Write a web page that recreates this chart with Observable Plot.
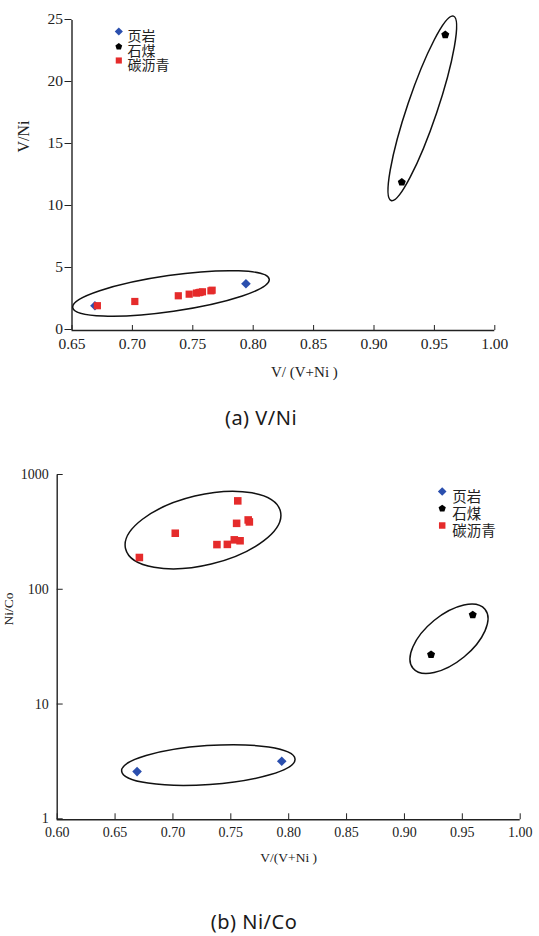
<!DOCTYPE html>
<html><head><meta charset="utf-8">
<script src="https://cdn.jsdelivr.net/npm/d3@7"></script>
<script src="https://cdn.jsdelivr.net/npm/@observablehq/plot@0.6"></script>
<style>
body{margin:0;background:#fff;}
#wrap{position:relative;width:539px;height:936px;overflow:hidden;background:#fff;}
#wrap svg{position:absolute;left:0;}
.cap{position:absolute;font-family:"Noto Sans","Noto Sans CJK SC",sans-serif;font-size:20px;line-height:20px;color:#1a1a1a;transform:translate(-50%,-50%);white-space:nowrap;letter-spacing:0.5px;}
</style></head><body><div id="wrap"></div>
<script>
// ---- data ----
const categories = ["页岩", "石煤", "碳沥青"];
const colors = ["#2b4fae", "#000000", "#e52b2b"];
// 页岩 (shale)
const shaleX = [0.669, 0.794];
const shaleVNi = [2.0, 3.77];
const shaleNiCo = [2.63, 3.24];
// 石煤 (stone coal)
const coalX = [0.923, 0.959];
const coalVNi = [11.96, 23.85];
const coalNiCo = [27.5, 61];
// 碳沥青 (carbonaceous bitumen)
const bitX = [0.671, 0.702, 0.738, 0.747, 0.753, 0.755, 0.756, 0.758, 0.765, 0.766];
const bitVNi = [2.0, 2.34, 2.8, 2.93, 3.02, 3.05, 3.08, 3.12, 3.2, 3.25];
const bitNiCo = [193, 314, 250, 251, 275, 383, 601, 270, 410, 394];
// tick labels
const xTicksA = [0.65, 0.70, 0.75, 0.80, 0.85, 0.90, 0.95, 1.00];
const yTicksA = [0, 5, 10, 15, 20, 25];
const xTicksB = [0.60, 0.65, 0.70, 0.75, 0.80, 0.85, 0.90, 0.95, 1.00];
const yTicksB = [1, 10, 100, 1000];
// grouping ellipses (major-axis ends in data units)
const ellipseEndsA = [[0.651, 1.81, 0.8137, 4.09], [0.9146, 10.44, 0.9662, 25.31]];
const ellipseEndsB = [[0.6595, 227.6, 0.7933, 482], [0.6561, 2.63, 0.8059, 3.35], [0.9078, 20.7, 0.970, 67.6]];
const ellipseMinorA = [18, 15];
const ellipseMinorB = [35, 19.5, 23.6];

// ---- symbols ----
const diamondSym = {draw(c, s){const r=Math.sqrt(s/Math.PI);c.moveTo(0,-r);c.lineTo(r,0);c.lineTo(0,r);c.lineTo(-r,0);c.closePath();}};
const pentSym = {draw(c, s){const r=Math.sqrt(s/Math.PI);for(let i=0;i<5;i++){const a=-Math.PI/2+i*2*Math.PI/5;const px=r*Math.cos(a),py=r*Math.sin(a);if(i===0)c.moveTo(px,py);else c.lineTo(px,py);}c.closePath();}};
const squareSym = {draw(c, s){const r=Math.sqrt(s/Math.PI);c.rect(-r,-r,2*r,2*r);}};
const symbols = [diamondSym, pentSym, squareSym];
const markerR = [4.8, 4.2, 3.6];

function rows(xs, ys){ return xs.map((x,i)=>({x, y: ys[i]})); }

function ellipseMark(ends, minors){
  return (index, scales) => {
    const g = d3.create("svg:g").attr("fill","none").attr("stroke","#111").attr("stroke-width",1.5);
    ends.forEach((e, i) => {
      const x1=scales.x(e[0]), y1=scales.y(e[1]), x2=scales.x(e[2]), y2=scales.y(e[3]);
      const cx=(x1+x2)/2, cy=(y1+y2)/2;
      const a=Math.hypot(x2-x1,y2-y1)/2;
      const ang=Math.atan2(y2-y1,x2-x1)*180/Math.PI;
      g.append("ellipse").attr("cx",cx).attr("cy",cy).attr("rx",a).attr("ry",minors[i])
        .attr("transform",`rotate(${ang} ${cx} ${cy})`);
    });
    return g.node();
  };
}

function legendMarks(mx, tx, rowsY, ml, mt, fs, scale){
  const out = [];
  categories.forEach((name, i) => {
    out.push(Plot.dot([0], {frameAnchor:"top-left", dx: mx-ml, dy: rowsY[i]-mt, r: markerR[i]*scale, symbol: symbols[i], fill: colors[i], stroke: "none"}));
    out.push(Plot.text([name], {frameAnchor:"top-left", dx: tx-ml, dy: rowsY[i]-mt, text: d=>d, textAnchor:"start", fontSize: fs, fontFamily:'"Liberation Serif","Noto Sans CJK SC",serif', fill:"#222"}));
  });
  return out;
}

const wrap = document.getElementById("wrap");
const serif = '"Liberation Serif","Times New Roman",serif';

// ---- chart A ----
const mlA = 71.5, mtA = 20;
const chartA = Plot.plot({
  width: 539, height: 395,
  marginLeft: mlA, marginRight: 44.7, marginTop: mtA, marginBottom: 65,
  style: {fontFamily: serif, fontSize: "15.5px", color: "#222", background: "#fff", overflow: "visible"},
  x: {domain: [0.65, 1.0]},
  y: {domain: [0, 25]},
  marks: [
    Plot.axisY({ticks: yTicksA, tickSize: 7, tickPadding: 2, label: null, tickFormat: d=>String(d), dy: -1}),
    Plot.axisX({ticks: xTicksA, tickSize: -5, tickPadding: 12.2, label: null, tickFormat: d3.format(".2f")}),
    Plot.ruleX([0.65], {stroke: "#222", strokeWidth: 1.4}),
    Plot.ruleY([0], {stroke: "#222", strokeWidth: 1.4}),
    ellipseMark(ellipseEndsA, ellipseMinorA),
    Plot.dot(rows(shaleX, shaleVNi), {x:"x", y:"y", r: markerR[0], symbol: diamondSym, fill: colors[0], stroke:"none"}),
    Plot.dot(rows(coalX, coalVNi), {x:"x", y:"y", r: markerR[1], symbol: pentSym, fill: colors[1], stroke:"none"}),
    Plot.dot(rows(bitX, bitVNi), {x:"x", y:"y", r: markerR[2], symbol: squareSym, fill: colors[2], stroke:"none"}),
    ...legendMarks(118.3, 127, [31, 46, 60], mlA, mtA, 14, 0.85),
    Plot.text(["V/Ni"], {frameAnchor:"left", dx: 23.3-mlA, dy: 152-175, rotate: -90, text: d=>d, fontSize: 16}),
    Plot.text(["V/ (V+Ni )"], {frameAnchor:"bottom", dx: 304-283, dy: 46.7, text: d=>d, fontSize: 15})
  ]
});
chartA.style.top = "0px";
wrap.appendChild(chartA);

// ---- chart B ----
const mlB = 56.7, mtB = 35, topB = 440;
const chartB = Plot.plot({
  width: 539, height: 440,
  marginLeft: mlB, marginRight: 19.3, marginTop: mtB, marginBottom: 60.7,
  style: {fontFamily: serif, fontSize: "14px", color: "#222", background: "#fff", overflow: "visible"},
  x: {domain: [0.6, 1.0]},
  y: {type: "log", domain: [1, 1000]},
  marks: [
    Plot.axisY({ticks: yTicksB, tickSize: -6, tickPadding: 14.4, label: null, tickFormat: d=>String(d), dy: -1}),
    Plot.axisX({ticks: xTicksB, tickSize: -6, tickPadding: 13.2, label: null, tickFormat: d3.format(".2f")}),
    Plot.ruleX([0.6], {stroke: "#222", strokeWidth: 1.4}),
    Plot.ruleY([1], {stroke: "#222", strokeWidth: 1.4}),
    ellipseMark(ellipseEndsB, ellipseMinorB),
    Plot.dot(rows(shaleX, shaleNiCo), {x:"x", y:"y", r: markerR[0], symbol: diamondSym, fill: colors[0], stroke:"none"}),
    Plot.dot(rows(coalX, coalNiCo), {x:"x", y:"y", r: markerR[1], symbol: pentSym, fill: colors[1], stroke:"none"}),
    Plot.dot(rows(bitX, bitNiCo), {x:"x", y:"y", r: markerR[2]*1.05, symbol: squareSym, fill: colors[2], stroke:"none"}),
    ...legendMarks(441.7, 451.7, [491, 508, 525].map(v=>v-topB), mlB, mtB, 14.5, 0.9),
    Plot.text(["Ni/Co"], {frameAnchor:"left", dx: 8-mlB, dy: 625-647.2, rotate: -90, text: d=>d, fontSize: 13.5}),
    Plot.text(["V/(V+Ni )"], {frameAnchor:"bottom", dx: 0, dy: 861.7-819.3, text: d=>d, fontSize: 13.5})
  ]
});
chartB.style.top = topB + "px";
wrap.appendChild(chartB);

// ---- captions ----
function caption(t, x, y){ const d=document.createElement("div"); d.className="cap"; d.textContent=t; d.style.left=x+"px"; d.style.top=y+"px"; wrap.appendChild(d); }
caption("(a) V/Ni", 261, 418);
caption("(b) Ni/Co", 254, 922);
</script></body></html>
